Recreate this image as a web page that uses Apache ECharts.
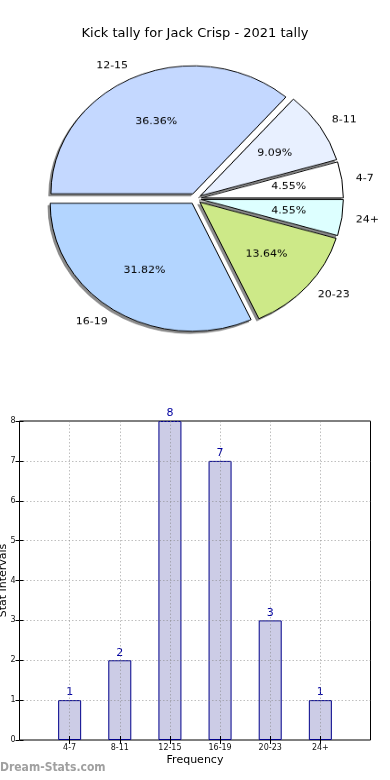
<!DOCTYPE html>
<html><head><meta charset="utf-8">
<script src="https://cdn.jsdelivr.net/npm/echarts@6/dist/echarts.min.js"></script>
<style>
html,body{margin:0;padding:0;background:#fff;}
#main{position:absolute;left:0;top:0;width:390px;height:780px;}
#pie{position:absolute;left:0;top:0;width:390px;height:400px;transform:scaleY(0.9014);transform-origin:195px 198.7px;}
</style></head><body>
<div id="main"></div><div id="pie"></div>
<script>
const titleText = 'Kick tally for Jack Crisp - 2021 tally';
const categories = ['4-7','8-11','12-15','16-19','20-23','24+'];
const counts = [1,2,8,7,3,1];
const sliceColors = ['#ffffff','#e8f0ff','#c4d8ff','#b3d5ff','#cde988','#ddffff'];
const yMin = 0, yMax = 8, yStep = 1;
const xAxisName = 'Frequency';
const yAxisName = 'Stat Intervals';
const watermark = 'Dream-Stats.com';

const FONT = 'DejaVu Sans';
const total = counts.reduce((a,b)=>a+b,0);
const catPositions = categories.map((c,i)=>i+1);

const pieChart = echarts.init(document.getElementById('pie'), null, {renderer:'canvas'});
const pieCenter = [195.4, 198.7];
const shadowCenter = [pieCenter[0]-2.2, pieCenter[1]+2.4];
const pieR = 142;
const common = {startAngle:0, clockwise:false, selectedMode:'multiple', selectedOffset:6, avoidLabelOverlap:false, emphasis:{disabled:true}};
pieChart.setOption({
  animation:false,
  series:[
    Object.assign({}, common, {
      type:'pie', center:shadowCenter, radius:pieR, silent:true,
      itemStyle:{color:'#8c8c8c', borderColor:'#6e6e6e', borderWidth:0.6},
      select:{itemStyle:{color:'#8c8c8c', borderColor:'#6e6e6e', borderWidth:0.6}},
      label:{show:false}, labelLine:{show:false},
      data: categories.map((c,i)=>({name:c, value:counts[i], selected:true}))
    }),
    Object.assign({}, common, {
      type:'pie', center:pieCenter, radius:pieR,
      itemStyle:{borderColor:'#000', borderWidth:1},
      select:{itemStyle:{borderColor:'#000', borderWidth:1}},
      label:{show:true, position:'outside', formatter:'{b}', fontSize:11, color:'#000', fontFamily:FONT, distanceToLabelLine:0},
      labelLine:{show:false, length:14, length2:0},
      data: categories.map((c,i)=>({name:c, value:counts[i], selected:true, itemStyle:{color:sliceColors[i]}, select:{itemStyle:{color:sliceColors[i]}}}))
    }),
    Object.assign({}, common, {
      type:'pie', center:pieCenter, radius:pieR*1.2, silent:true,
      itemStyle:{color:'rgba(0,0,0,0)', borderWidth:0},
      select:{itemStyle:{color:'rgba(0,0,0,0)', borderWidth:0}},
      label:{show:true, position:'inside', fontSize:11, color:'#000', fontFamily:FONT,
             formatter:p=>(p.value/total*100).toFixed(2)+'%'},
      labelLine:{show:false},
      data: categories.map((c,i)=>({name:c, value:counts[i], selected:true}))
    })
  ]
});

const chart = echarts.init(document.getElementById('main'), null, {renderer:'canvas'});
const gridLine = {show:true, lineStyle:{color:'rgba(128,128,128,0.5)', width:1, type:[1.5,2]}};
chart.setOption({
  animation:false,
  title:{text:titleText, left:'center', top:22, textStyle:{fontSize:13, fontWeight:'normal', color:'#000', fontFamily:FONT}},
  grid:{left:19.5, top:421, width:351, height:319, outerBoundsMode:'none', containLabel:false, show:true, borderColor:'#000', borderWidth:1, backgroundColor:'transparent'},
  xAxis:[
    {type:'value', min:0, max:categories.length+1, interval:1, z:3,
     axisLine:{show:false}, axisTick:{show:true, inside:true, length:4, customValues:catPositions, lineStyle:{color:'#000'}},
     axisLabel:{fontSize:8, margin:4, color:'#111', fontFamily:FONT, formatter:v=>categories[v-1]||''},
     splitLine:gridLine,
     name:xAxisName, nameLocation:'middle', nameGap:15, nameMoveOverlap:false, nameTextStyle:{fontSize:11, color:'#000', fontFamily:FONT}},
    {type:'value', position:'top', min:0, max:categories.length+1, interval:1, z:3,
     axisLine:{show:false}, axisTick:{show:true, inside:true, length:4, customValues:catPositions, lineStyle:{color:'#000'}},
     axisLabel:{show:false}, splitLine:{show:false}}
  ],
  yAxis:[
    {type:'value', min:yMin, max:yMax, interval:yStep, z:3,
     axisLine:{show:false}, axisTick:{show:true, inside:true, length:4, lineStyle:{color:'#000'}},
     axisLabel:{fontSize:8, margin:4, color:'#111', fontFamily:FONT},
     splitLine:gridLine,
     name:yAxisName, nameLocation:'middle', nameRotate:90, nameGap:11, nameMoveOverlap:false, nameTextStyle:{fontSize:11, color:'#000', fontFamily:FONT}},
    {type:'value', position:'right', min:yMin, max:yMax, interval:yStep, z:3,
     axisLine:{show:false}, axisTick:{show:true, inside:true, length:4, lineStyle:{color:'#000'}},
     axisLabel:{show:false}, splitLine:{show:false}}
  ],
  series:[{
    type:'bar', xAxisIndex:0, yAxisIndex:0, barWidth:23,
    data: counts.map((v,i)=>[i+1, v]),
    itemStyle:{color:'#ccccE6', borderColor:'#00008b', borderWidth:1},
    label:{show:true, position:'top', distance:2, color:'#0000a0', fontSize:11, fontFamily:FONT, formatter:p=>p.value[1]},
    emphasis:{disabled:true}
  }],
  graphic:[{type:'text', left:0, top:762, style:{text:watermark, fill:'#a0a0a0', font:'bold 12px "DejaVu Sans Condensed", "DejaVu Sans"'}}]
});
</script>
</body></html>
